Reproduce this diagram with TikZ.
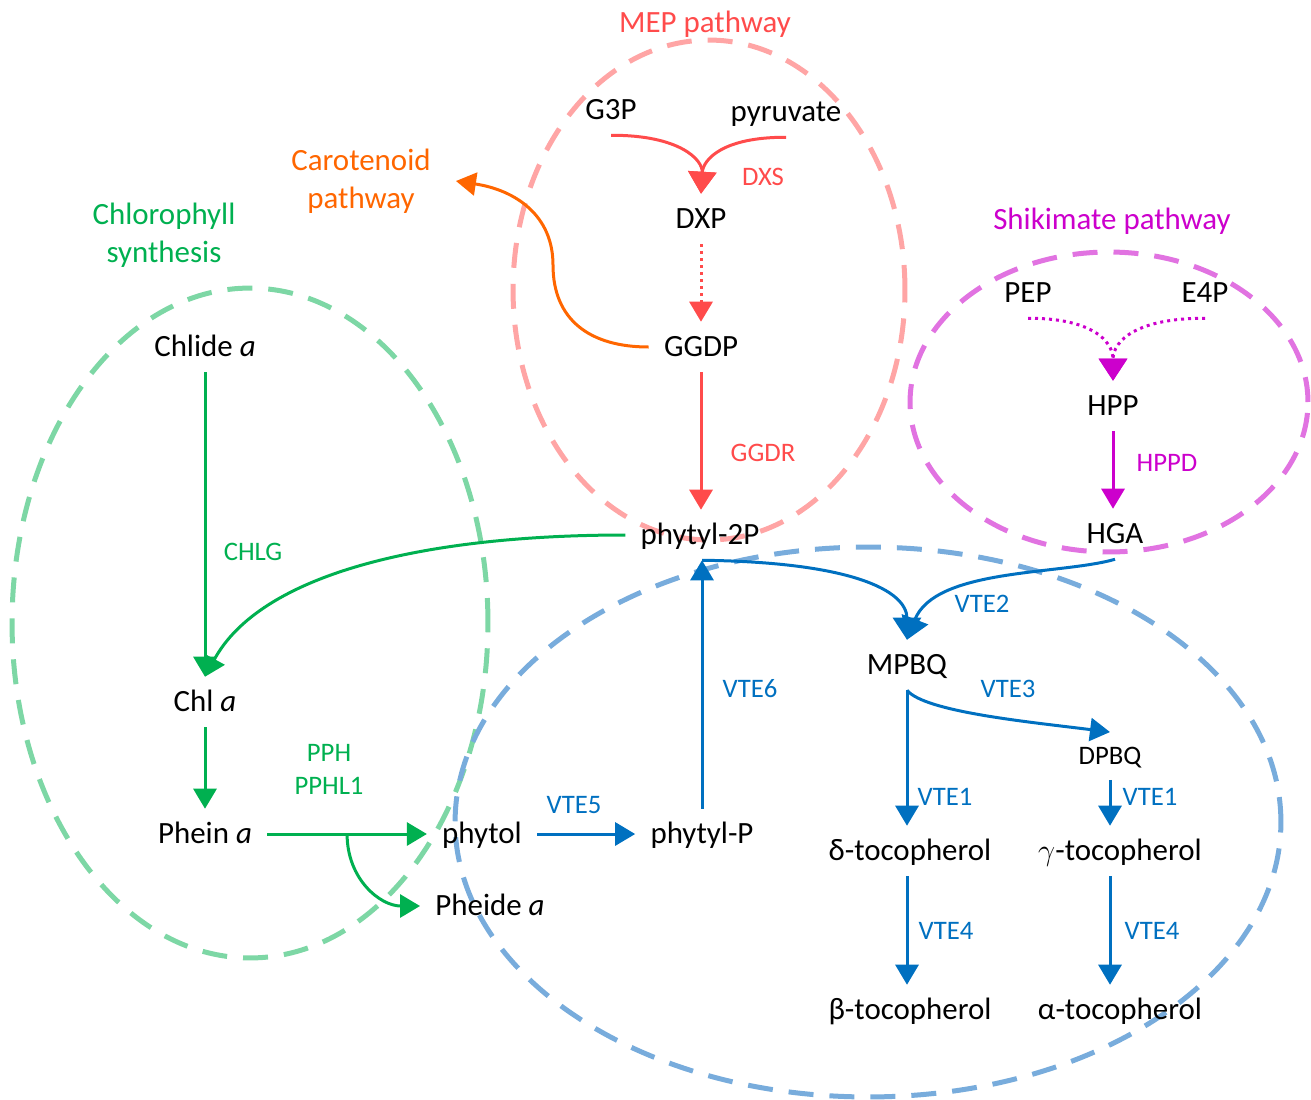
\documentclass[tikz,border=0pt]{standalone}
\usepackage{fontspec}
\setmainfont{Carlito}
\usetikzlibrary{arrows.meta,calc}
\definecolor{mepred}{RGB}{255,75,75}
\definecolor{meppink}{RGB}{255,165,165}
\definecolor{caro}{RGB}{255,102,0}
\definecolor{chlgreen}{RGB}{0,176,80}
\definecolor{chlpale}{RGB}{125,215,165}
\definecolor{shikmag}{RGB}{204,0,204}
\definecolor{shikpale}{RGB}{225,115,225}
\definecolor{vteblue}{RGB}{0,112,192}
\definecolor{vtepale}{RGB}{120,172,220}
\begin{document}
\begin{tikzpicture}[x=0.02cm, y=-0.02cm,
  met/.style={inner sep=0.3cm, text height=11.3pt, text depth=0pt, font=\fontsize{17.6}{21}\selectfont},
  enz/.style={inner sep=1pt, font=\fontsize{15.2}{18}\selectfont},
  ttl/.style={inner sep=0.3cm, align=center, font=\fontsize{17.6}{21.6}\selectfont},
  pway/.style={dash pattern=on 0.5cm off 0.32cm, line width=0.1cm},
  conv/.style={line width=0.06cm, -{Triangle[length=0.4cm,width=0.46cm]}},
  merge/.style={line width=0.06cm, -{Triangle[length=0.44cm,width=0.56cm]}},
  dots/.style={merge, dash pattern=on 0.06cm off 0.08cm}]
\useasboundingbox (0,0) rectangle (1311,1099);
\draw[pway, meppink] (709,290) ellipse [x radius=3.92cm, y radius=5cm];
\draw[pway, shikpale] (1109,402) ellipse [x radius=3.98cm, y radius=3cm];
\draw[pway, chlpale] (250,623) ellipse [x radius=4.76cm, y radius=6.7cm];
\draw[pway, vtepale] (868,822) ellipse [x radius=8.26cm, y radius=5.5cm];
\node[ttl, text=mepred] (mep) at (705,24) {MEP pathway};
\node[ttl, text=shikmag] (shik) at (1112,221) {Shikimate pathway};
\node[ttl, text=caro] (carot) at (361,181) {Carotenoid\\pathway};
\node[ttl, text=chlgreen] (chlsyn) at (164,235) {Chlorophyll\\synthesis};
\node[met] (g3p) at (611,110) {G3P};
\node[met] (pyr) at (786,112) {pyruvate};
\node[met] (dxp) at (701,219) {DXP};
\node[met] (ggdp) at (701,347) {GGDP};
\node[met] (p2p) at (700,535) {phytyl-2P};
\node[met] (chlide) at (205,347) {Chlide \textit{a}};
\node[met] (chla) at (205,702) {Chl \textit{a}};
\node[met] (phein) at (205,834) {Phein \textit{a}};
\node[met] (phytol) at (482,834) {phytol};
\node[met] (pheide) at (490,906) {Pheide \textit{a}};
\node[met] (phytylp) at (702,834) {phytyl-P};
\node[met] (pep) at (1028,293) {PEP};
\node[met] (e4p) at (1205,293) {E4P};
\node[met] (hpp) at (1113,406) {HPP};
\node[met] (hga) at (1115,534) {HGA};
\node[met] (mpbq) at (907,665) {MPBQ};
\node[met, text height=9.8pt, font=\fontsize{15.2}{18}\selectfont] (dpbq) at (1110,756) {DPBQ};
\node[met] (dtoc) at (910,851) {δ-tocopherol};
\node[met] (gtoc) at (1120,851) {$\gamma$-tocopherol};
\node[met] (btoc) at (910,1010) {β-tocopherol};
\node[met] (atoc) at (1120,1010) {α-tocopherol};
\node[enz, text=mepred] (dxs) at (763,177) {DXS};
\node[enz, text=mepred] (ggdr) at (763,453) {GGDR};
\node[enz, text=chlgreen] (chlg) at (253,552) {CHLG};
\node[enz, text=chlgreen] (pph) at (329,753) {PPH};
\node[enz, text=chlgreen] (pphl) at (329,786) {PPHL1};
\node[enz, text=shikmag] (hppd) at (1167,463) {HPPD};
\node[enz, text=vteblue] (vte5) at (574,805) {VTE5};
\node[enz, text=vteblue] (vte6) at (750,689) {VTE6};
\node[enz, text=vteblue] (vte2) at (982,604) {VTE2};
\node[enz, text=vteblue] (vte3) at (1008,689) {VTE3};
\node[enz, text=vteblue] (vte1a) at (945,797) {VTE1};
\node[enz, text=vteblue] (vte1b) at (1150,797) {VTE1};
\node[enz, text=vteblue] (vte4a) at (946,931) {VTE4};
\node[enz, text=vteblue] (vte4b) at (1152,931) {VTE4};
\coordinate (br) at ($(phein.east)!0.5!(phytol.west)$);
\coordinate (j6) at (phytylp.north |- p2p.south);
\draw[merge, mepred] (g3p.south) .. controls (680,135) and (703,160) .. (dxp.north);
\draw[merge, mepred] (pyr.south) .. controls (722,137) and (703,160) .. (dxp.north);
\draw[dots, conv, mepred] (dxp.south) -- (ggdp.north);
\draw[conv, mepred] (ggdp.south) -- (ggdp.south |- p2p.north);
\draw[conv, caro] (ggdp.west) .. controls (590,347) and (553,320) .. (553,265) .. controls (553,215) and (515,190) .. ([xshift=0.2cm]carot.east);
\draw[dots, shikmag] (pep.south) .. controls (1090,318) and (1113,340) .. (hpp.north);
\draw[dots, shikmag] (e4p.south) .. controls (1138,318) and (1113,340) .. (hpp.north);
\draw[conv, shikmag] (hpp.south) -- (hpp.south |- hga.north);
\draw[conv, chlgreen] (chlide.south) -- (chla.north);
\draw[conv, chlgreen] (p2p.west) .. controls (420,535) and (260,575) .. (chla.north);
\draw[conv, chlgreen] (chla.south) -- (phein.north);
\draw[conv, chlgreen] (phein.east) -- (phytol.west);
\draw[conv, chlgreen] (br) .. controls +(0,45) and +(-40,0) .. (pheide.west);
\draw[conv, vteblue] (phytol.east) -- (phytylp.west);
\draw[conv, vteblue] (phytylp.north) -- (j6);
\draw[merge, vteblue] (j6) .. controls (850,562) and (907,590) .. (mpbq.north);
\draw[merge, vteblue] (hga.south) .. controls (1060,575) and (935,568) .. (mpbq.north);
\draw[conv, vteblue] (mpbq.south) .. controls (925,712) and (1030,722) .. (dpbq.north);
\draw[conv, vteblue] (mpbq.south) -- (mpbq.south |- dtoc.north);
\draw[conv, vteblue] (dpbq.south) -- (dpbq.south |- gtoc.north);
\draw[conv, vteblue] (dtoc.south -| mpbq.south) -- (btoc.north -| mpbq.south);
\draw[conv, vteblue] (gtoc.south -| dpbq.south) -- (atoc.north -| dpbq.south);
\end{tikzpicture}
\end{document}
